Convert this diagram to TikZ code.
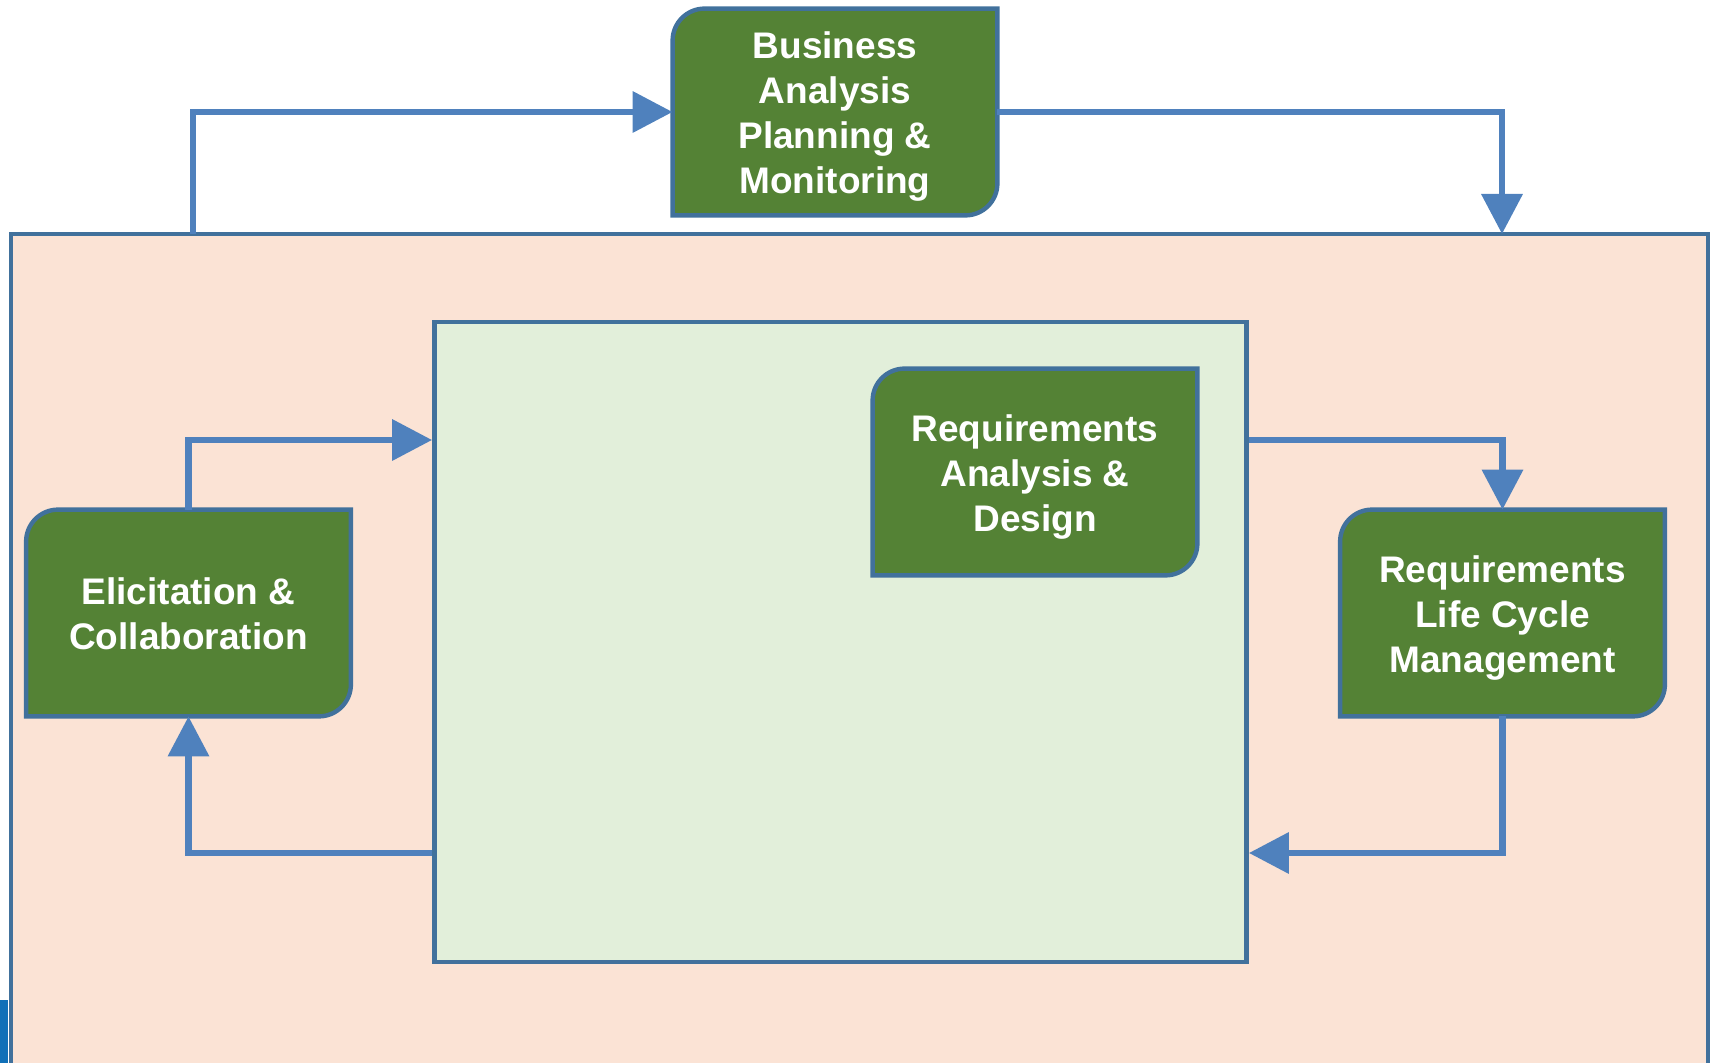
\documentclass[tikz,border=0pt]{standalone}
\usepackage{fontspec}
\setmainfont{Liberation Sans}
\usetikzlibrary{positioning,arrows.meta,calc,backgrounds}

\definecolor{taskgreen}{HTML}{548235}
\definecolor{edgeblue}{HTML}{41719C}
\definecolor{flowblue}{HTML}{4F81BD}
\definecolor{peach}{HTML}{FBE3D5}
\definecolor{palegreen}{HTML}{E2EFDA}
\definecolor{stripblue}{HTML}{1070B8}

% struts so that all box texts sit alike
\newcommand{\tasktext}[1]{\rule{0pt}{18pt}#1\rule[-3.5pt]{0pt}{3.5pt}}

\begin{document}
\begin{tikzpicture}[
  x=0.5pt, y=-0.5pt,
  font=\fontsize{18.5}{22.5}\selectfont\bfseries,
  task/.style={minimum width=162pt, minimum height=103pt, align=center, text=white, inner sep=0pt},
  work/.style={draw=edgeblue, line width=2.4pt, fill=palegreen, minimum width=406pt, minimum height=320pt},
  flow/.style={-{Triangle[length=20pt,width=20pt]}, draw=flowblue, line width=3.4pt}
]
\useasboundingbox (0,0) rectangle (1714,1063);

\begin{scope}[on background layer]
% outer area, open at the bottom
\fill[peach] (11,1070) -- (11,234) -- (1708,234) -- (1708,1070);
\draw[edgeblue, line width=2.4pt] (11,1070) -- (11,234) -- (1708,234) -- (1708,1070);
\fill[stripblue] (0,1000) rectangle (8,1063);
\node[work] (core) at (840.5,642) {};
\end{scope}

\node[task] (bapm) at (835,112) {\tasktext{Business\\Analysis\\Planning \&\\Monitoring}};
\node[task] (elic) at (188.5,613) {\tasktext{Elicitation \&\\Collaboration}};
\node[task] (rad) at (1035,472) {\tasktext{Requirements\\Analysis \&\\Design}};
\node[task] (rlcm) at (1502.5,613) {\tasktext{Requirements\\Life Cycle\\Management}};

% box shapes: rounded top left and bottom right
\begin{scope}[on background layer]
\foreach \n in {bapm,elic,rad,rlcm}
  \draw[edgeblue, fill=taskgreen, line width=2.2pt]
    (\n.south west) -- ([yshift=-16pt]\n.north west)
    arc[start angle=180, end angle=90, radius=16pt] -- (\n.north east)
    -- ([yshift=16pt]\n.south east)
    arc[start angle=0, end angle=-90, radius=16pt] -- cycle;
\end{scope}

\coordinate (outleft) at (193,234);
\coordinate (outright) at (1502,234);
\coordinate (upper) at (0,440);
\coordinate (lower) at (0,853);

\draw[flow] (outleft) |- (bapm.west);
\draw[flow] (bapm.east) -| (outright);
\draw[flow] (elic.north) |- (core.west |- upper);
\draw[flow] (core.east |- upper) -| (rlcm.north);
\draw[flow] (rlcm.south) |- (core.east |- lower);
\draw[flow] (core.west |- lower) -| (elic.south);
\end{tikzpicture}
\end{document}
